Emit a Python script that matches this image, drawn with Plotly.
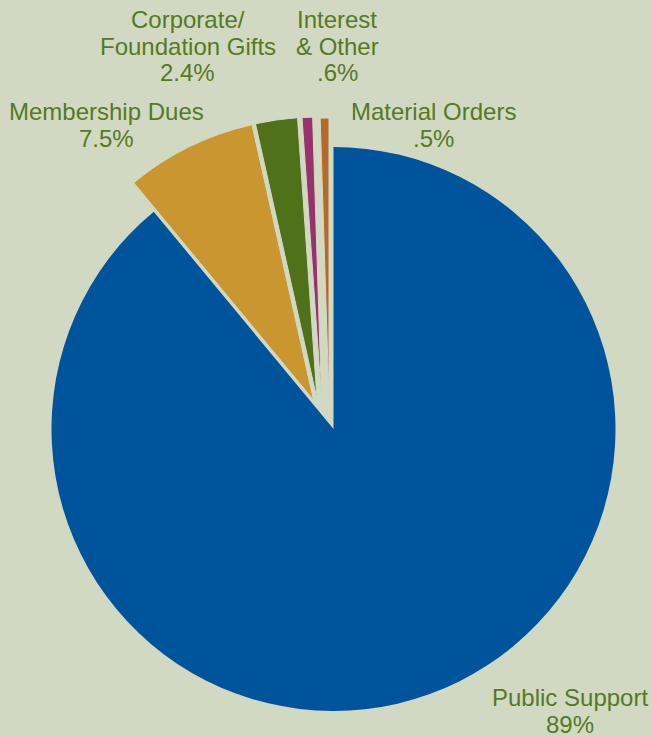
import plotly.graph_objects as go

# ---- data ----
categories = ["Public Support", "Membership Dues", "Corporate/\nFoundation Gifts", "Interest\n& Other", "Material Orders"]
values = [89, 7.5, 2.4, 0.6, 0.5]
pct_labels = ["89%", "7.5%", "2.4%", ".6%", ".5%"]

# ---- styles ----
W, H = 652, 737
BG = "#D2D9C2"
TEXT = "#557A22"
colors = ["#00549B", "#C9962F", "#4E7119", "#97326A", "#B7692B"]
FONT = "Liberation Sans, Arial, sans-serif"

cx, cy, r = 333.5, 429, 282
# per-slice offsets (pixels, screen coords) for the pulled-out small slices
offsets = [(0, 0), (-20, -29), (-16.5, -30), (-12, -30), (-4.5, -29)]


def dom(dx, dy):
    x0 = (cx - r + dx) / W
    x1 = (cx + r + dx) / W
    y0 = 1 - (cy + r + dy) / H
    y1 = 1 - (cy - r + dy) / H
    return dict(x=[x0, x1], y=[y0, y1])


fig = go.Figure()
for i, (dx, dy) in enumerate(offsets):
    cols = ["rgba(0,0,0,0)"] * len(values)
    cols[i] = colors[i]
    widths = [0] * len(values)
    widths[i] = 0 if i == 0 else 1
    fig.add_trace(go.Pie(
        labels=[c.replace("\n", " ") for c in categories],
        values=values,
        sort=False,
        direction="clockwise",
        rotation=0,
        marker=dict(colors=cols, line=dict(color=BG, width=widths)),
        textinfo="none",
        hoverinfo="label+percent" if i == 0 else "skip",
        showlegend=False,
        domain=dom(dx, dy),
    ))

# label positions: (center x, first-line baseline) in pixels
label_pos = [(570, 706), (106.5, 120), (187.5, 28), (337, 28), (433, 120)]
LINE = 26.5
FS = 24
annotations = []
for cat, pct, (lx, by) in zip(categories, pct_labels, label_pos):
    lines = cat.split("\n") + [pct]
    for k, t in enumerate(lines):
        base = by + k * LINE
        annotations.append(dict(
            x=lx / W, y=1 - (base - 8.5) / H, xref="paper", yref="paper",
            text=t, showarrow=False, xanchor="center", yanchor="middle",
            font=dict(family=FONT, size=FS, color=TEXT),
        ))

fig.update_layout(
    width=W, height=H,
    margin=dict(l=0, r=0, t=0, b=0),
    paper_bgcolor=BG, plot_bgcolor=BG,
    annotations=annotations,
)

fig.write_html(
    "out.html",
    config={"displayModeBar": False},
    post_script="document.body.style.margin='0';document.body.style.background='%s';" % BG,
)
